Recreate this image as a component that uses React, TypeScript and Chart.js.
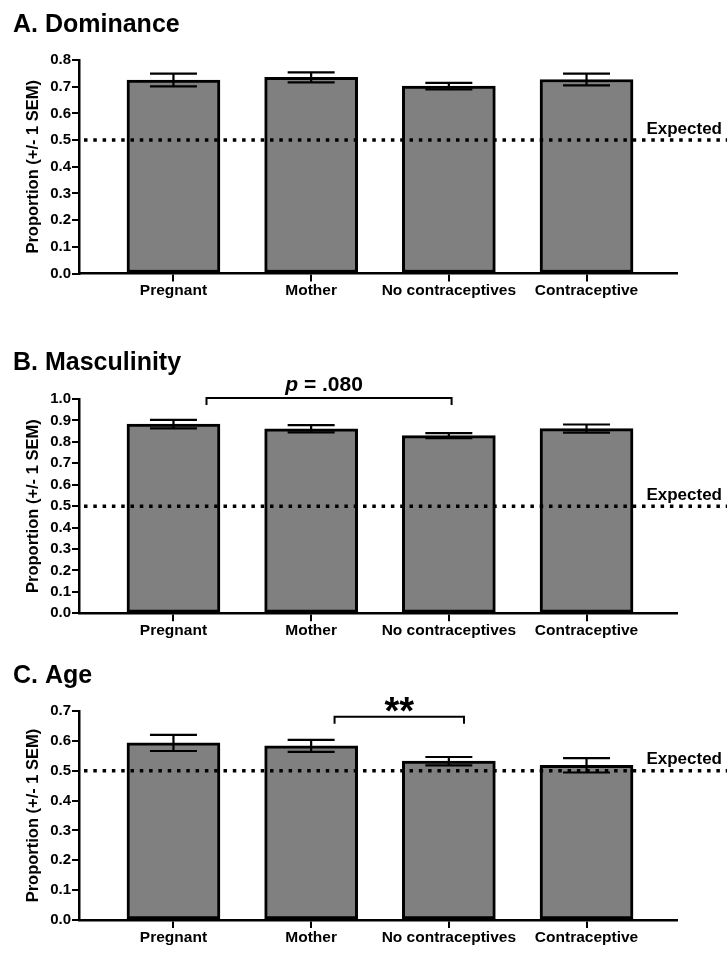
import React, { useEffect, useRef } from "react";
import { Chart, registerables } from "chart.js";

Chart.register(...registerables);

const categories = ["Pregnant", "Mother", "No contraceptives", "Contraceptive"];

const dominanceMeans = [0.725, 0.735, 0.702, 0.727];
const dominanceSems = [0.024, 0.019, 0.012, 0.022];
const dominanceTicks = [0, 0.1, 0.2, 0.3, 0.4, 0.5, 0.6, 0.7, 0.8];

const masculinityMeans = [0.883, 0.861, 0.829, 0.862];
const masculinitySems = [0.02, 0.017, 0.012, 0.019];
const masculinityTicks = [0, 0.1, 0.2, 0.3, 0.4, 0.5, 0.6, 0.7, 0.8, 0.9, 1.0];

const ageMeans = [0.593, 0.583, 0.532, 0.518];
const ageSems = [0.027, 0.02, 0.014, 0.024];
const ageTicks = [0, 0.1, 0.2, 0.3, 0.4, 0.5, 0.6, 0.7];

const expectedValue = 0.5;

const FONT = '"Liberation Sans", Arial, Helvetica, sans-serif';

type Bracket = { x0: number; x1: number; y: number; kind: "p" | "stars"; label: string };

type PanelSpec = {
  title: string;
  means: number[];
  sems: number[];
  ticks: number[];
  top: number;
  height: number;
  padTop: number;
  padBottom: number;
  titleBaseline: number;
  bracket?: Bracket;
};

const panels: PanelSpec[] = [
  {
    title: "A. Dominance",
    means: dominanceMeans,
    sems: dominanceSems,
    ticks: dominanceTicks,
    top: 0,
    height: 320,
    padTop: 60,
    padBottom: 20.5,
    titleBaseline: 32,
  },
  {
    title: "B. Masculinity",
    means: masculinityMeans,
    sems: masculinitySems,
    ticks: masculinityTicks,
    top: 320,
    height: 320,
    padTop: 79,
    padBottom: 0.7,
    titleBaseline: 50,
    bracket: { x0: 0.24, x1: 2.02, y: 1.005, kind: "p", label: " = .080" },
  },
  {
    title: "C. Age",
    means: ageMeans,
    sems: ageSems,
    ticks: ageTicks,
    top: 640,
    height: 316,
    padTop: 71,
    padBottom: 10,
    titleBaseline: 43.3,
    bracket: { x0: 1.17, x1: 2.11, y: 0.681, kind: "stars", label: "**" },
  },
];

function makeOverlay(spec: PanelSpec) {
  return {
    id: "overlay",
    afterDatasetsDraw(chart: any) {
      const { ctx, chartArea } = chart;
      const x = chart.scales.x;
      const y = chart.scales.y;
      ctx.save();
      // expected dotted line
      const ey = y.getPixelForValue(expectedValue);
      ctx.strokeStyle = "#000";
      ctx.lineWidth = 3.5;
      ctx.setLineDash([3.5, 5.8]);
      ctx.beginPath();
      ctx.moveTo(chartArea.left + 5, ey);
      ctx.lineTo(chart.width, ey);
      ctx.stroke();
      ctx.setLineDash([]);
      ctx.fillStyle = "#000";
      ctx.font = `bold 17px ${FONT}`;
      ctx.textAlign = "right";
      ctx.textBaseline = "alphabetic";
      ctx.fillText("Expected", 722, ey - 6.5);

      // error bars
      ctx.lineWidth = 2.2;
      spec.means.forEach((m, i) => {
        const cx = x.getPixelForValue(i);
        const yt = y.getPixelForValue(m + spec.sems[i]);
        const yb = y.getPixelForValue(m - spec.sems[i]);
        ctx.beginPath();
        ctx.moveTo(cx, yb);
        ctx.lineTo(cx, yt);
        ctx.moveTo(cx - 23.5, yt);
        ctx.lineTo(cx + 23.5, yt);
        ctx.moveTo(cx - 23.5, yb);
        ctx.lineTo(cx + 23.5, yb);
        ctx.stroke();
      });

      // significance bracket
      const b = spec.bracket;
      if (b) {
        const bx0 = x.getPixelForValue(b.x0);
        const bx1 = x.getPixelForValue(b.x1);
        const by = y.getPixelForValue(b.y);
        ctx.lineWidth = 2;
        ctx.beginPath();
        ctx.moveTo(bx0, by + 7);
        ctx.lineTo(bx0, by);
        ctx.lineTo(bx1, by);
        ctx.lineTo(bx1, by + 7);
        ctx.stroke();
        const cx = (bx0 + bx1) / 2;
        ctx.textAlign = "left";
        if (b.kind === "p") {
          ctx.font = `italic bold 21px ${FONT}`;
          const wp = ctx.measureText("p").width;
          ctx.font = `bold 21px ${FONT}`;
          const wr = ctx.measureText(b.label).width;
          const start = cx - (wp + wr) / 2 - 5;
          ctx.font = `italic bold 21px ${FONT}`;
          ctx.fillText("p", start, by - 6.6);
          ctx.font = `bold 21px ${FONT}`;
          ctx.fillText(b.label, start + wp, by - 6.6);
        } else {
          ctx.font = `bold 38px ${FONT}`;
          ctx.textAlign = "center";
          const m = ctx.measureText(b.label);
          const bottom = by - 5;
          ctx.fillText(b.label, cx, bottom - m.actualBoundingBoxDescent);
        }
      }
      ctx.restore();
    },
    afterDraw(chart: any) {
      const { ctx, chartArea } = chart;
      ctx.save();
      ctx.fillStyle = "#000";
      ctx.font = `bold 25px ${FONT}`;
      ctx.textAlign = "left";
      ctx.textBaseline = "alphabetic";
      ctx.fillText(spec.title, 13, spec.titleBaseline);
      // y axis title
      ctx.translate(33.5, (chartArea.top + chartArea.bottom) / 2);
      ctx.rotate(-Math.PI / 2);
      ctx.font = `bold 16.5px ${FONT}`;
      ctx.textAlign = "center";
      ctx.textBaseline = "middle";
      ctx.fillText("Proportion (+/- 1 SEM)", 0, 0);
      ctx.restore();
    },
  };
}

function Panel({ spec }: { spec: PanelSpec }) {
  const ref = useRef<HTMLCanvasElement | null>(null);
  useEffect(() => {
    if (!ref.current) return;
    const chart = new Chart(ref.current, {
      type: "bar",
      data: {
        datasets: [
          {
            data: spec.means.map((v, i) => ({ x: i, y: v })),
            backgroundColor: "#808080",
            borderColor: "#000",
            borderWidth: 3,
            borderSkipped: false,
            barThickness: 93,
          } as any,
        ],
      },
      options: {
        animation: false,
        responsive: false,
        maintainAspectRatio: false,
        layout: { padding: { top: spec.padTop, left: 0, right: 50, bottom: spec.padBottom } },
        plugins: { legend: { display: false }, tooltip: { enabled: false }, title: { display: false } },
        scales: {
          x: {
            type: "linear",
            min: -0.686,
            max: 3.657,
            offset: false,
            afterBuildTicks: (scale: any) => {
              scale.ticks = categories.map((_, i) => ({ value: i }));
            },
            afterFit: (scale: any) => {
              scale.height = 26;
            },
            ticks: {
              color: "#000",
              font: { family: FONT, size: 15.5, weight: "bold" },
              padding: 0,
              maxRotation: 0,
              autoSkip: false,
              callback: (v: any) => categories[Math.round(Number(v))],
            },
            grid: {
              offset: false,
              drawOnChartArea: false,
              drawTicks: true,
              tickLength: 8,
              color: "#000",
              lineWidth: 2,
            },
            border: { display: true, color: "#000", width: 2.5 },
          },
          y: {
            type: "linear",
            min: spec.ticks[0],
            max: spec.ticks[spec.ticks.length - 1],
            afterBuildTicks: (scale: any) => {
              scale.ticks = spec.ticks.map((v) => ({ value: v }));
            },
            afterFit: (scale: any) => {
              scale.width = 79;
            },
            ticks: {
              color: "#000",
              font: { family: FONT, size: 15, weight: "bold" },
              padding: 1,
              callback: (v: any) => Number(v).toFixed(1),
            },
            grid: { drawOnChartArea: false, drawTicks: true, tickLength: 7, color: "#000", lineWidth: 2 },
            border: { display: true, color: "#000", width: 2.5 },
          },
        },
      } as any,
      plugins: [makeOverlay(spec)],
    });
    return () => chart.destroy();
  }, [spec]);
  return (
    <canvas
      ref={ref}
      width={727}
      height={spec.height}
      style={{ position: "absolute", left: 0, top: spec.top, width: 727, height: spec.height }}
    />
  );
}

export default function App() {
  return (
    <div style={{ position: "absolute", left: 0, top: 0, width: 727, height: 956, background: "#fff" }}>
      {panels.map((p) => (
        <Panel key={p.title} spec={p} />
      ))}
    </div>
  );
}
